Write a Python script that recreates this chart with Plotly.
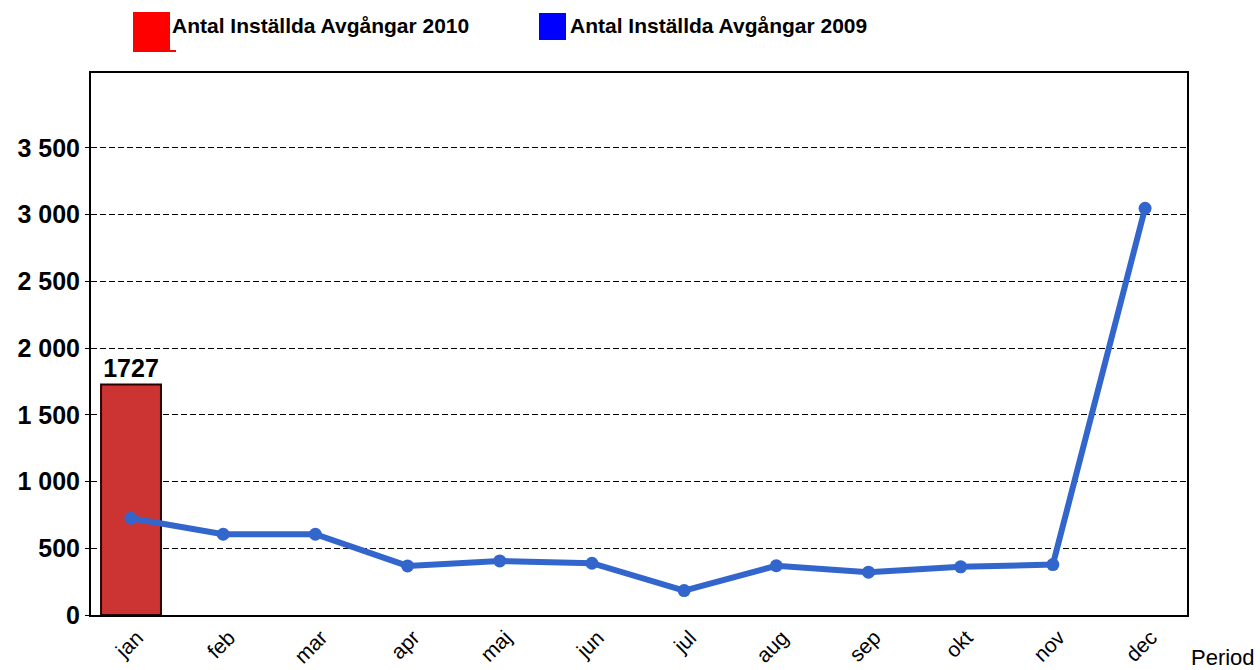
import plotly.graph_objects as go

months = ["jan", "feb", "mar", "apr", "maj", "jun", "jul", "aug", "sep", "okt", "nov", "dec"]
values_2010 = [1727, None, None, None, None, None, None, None, None, None, None, None]
values_2009 = [725, 605, 605, 368, 405, 388, 183, 369, 321, 361, 378, 3048]
name_2010 = "Antal Inställda Avgångar 2010"
name_2009 = "Antal Inställda Avgångar 2009"
y_ticks = [0, 500, 1000, 1500, 2000, 2500, 3000, 3500]

W, H = 1260, 670
L, R, T, B = 91, 1187, 73, 615

def px(x):
    return (x - L) / (R - L)

def py(y):
    return (B - y) / (B - T)

FONT = "Liberation Sans, Arial, sans-serif"

fig = go.Figure()
fig.add_trace(go.Bar(
    x=months, y=values_2010, name=name_2010,
    marker=dict(color="#CC3333", line=dict(color="#2a0000", width=2)),
    width=0.65,
    text=[str(v) if v is not None else "" for v in values_2010],
    textposition="outside", cliponaxis=False,
    textfont=dict(family=FONT, size=25, color="black", weight="bold"),
    showlegend=False,
))
fig.add_trace(go.Scatter(
    x=months, y=values_2009, name=name_2009, mode="lines+markers",
    line=dict(color="#3366CC", width=6),
    marker=dict(color="#3366CC", size=13),
    showlegend=False,
))

shapes = [
    dict(type="rect", xref="paper", yref="paper", x0=px(133), x1=px(170), y0=py(52), y1=py(12),
         fillcolor="#FF0000", line=dict(width=0)),
    dict(type="rect", xref="paper", yref="paper", x0=px(133), x1=px(176), y0=py(52), y1=py(50),
         fillcolor="#FF0000", line=dict(width=0)),
    dict(type="rect", xref="paper", yref="paper", x0=px(539), x1=px(566), y0=py(40), y1=py(13),
         fillcolor="#0000FF", line=dict(width=0)),
]
annotations = [
    dict(text=name_2010, xref="paper", yref="paper", x=px(170), y=py(25), xanchor="left",
         yanchor="middle", showarrow=False, font=dict(family=FONT, size=21, color="black", weight="bold")),
    dict(text=name_2009, xref="paper", yref="paper", x=px(568), y=py(25), xanchor="left",
         yanchor="middle", showarrow=False, font=dict(family=FONT, size=21, color="black", weight="bold")),
    dict(text="Period", xref="paper", yref="paper", x=px(1189), y=py(657), xanchor="left",
         yanchor="middle", showarrow=False, font=dict(family=FONT, size=22, color="black")),
]

fig.update_layout(
    template="none",
    width=W, height=H, autosize=False,
    margin=dict(l=L, r=W - R, t=T, b=H - B, pad=0),
    paper_bgcolor="white", plot_bgcolor="white",
    separators=", ",
    barmode="overlay",
    shapes=shapes, annotations=annotations,
    font=dict(family=FONT, color="black"),
    hovermode=False,
)
fig.update_xaxes(
    type="category", showgrid=False, tickangle=-45, automargin=False,
    tickfont=dict(family=FONT, size=21, color="black"),
    ticklabelshift=6,
    showline=True, linecolor="black", linewidth=2, mirror=True,
    ticks="", range=[-0.434, 11.455], zeroline=False,
)
fig.update_yaxes(
    range=[0, 4062], tickvals=y_ticks, tickformat=",d", automargin=False,
    tickfont=dict(family=FONT, size=25, color="black", weight="bold"),
    showgrid=True, gridcolor="black", gridwidth=1.3, griddash="6px,3px",
    zeroline=False,
    showline=True, linecolor="black", linewidth=2, mirror=True,
    ticks="outside", ticklen=4, tickcolor="black", tickwidth=1.2,
)

fig.write_html(
    "out.html",
    config={"displayModeBar": False},
    post_script="document.body.style.margin='0';document.body.style.overflow='hidden';",
)
